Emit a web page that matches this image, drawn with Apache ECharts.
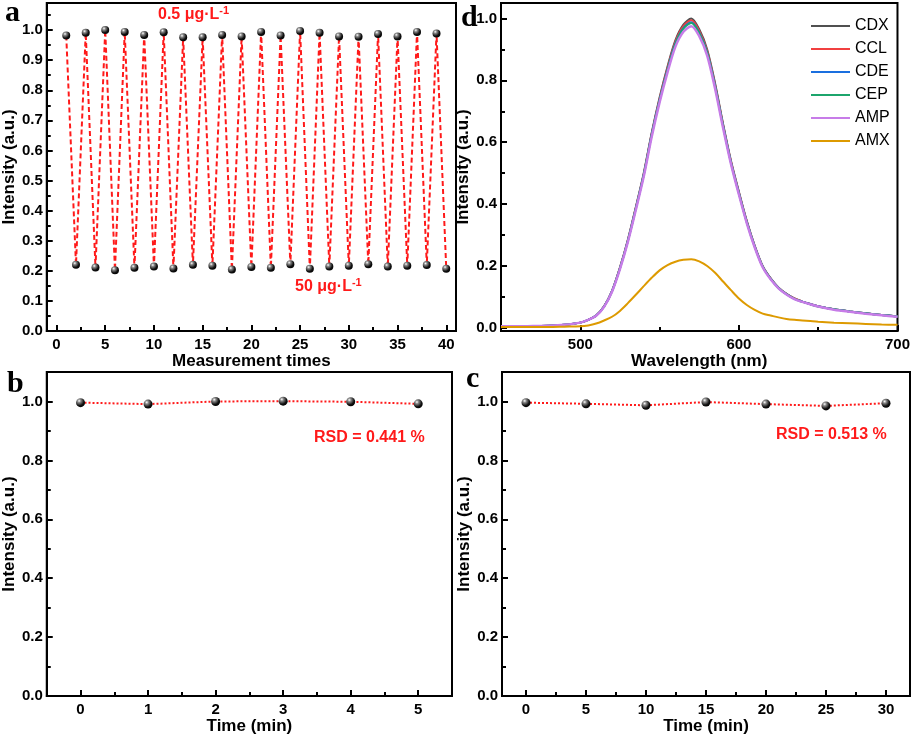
<!DOCTYPE html>
<html>
<head>
<meta charset="utf-8">
<script src="https://cdn.jsdelivr.net/npm/echarts@6/dist/echarts.min.js"></script>
<style>
html,body{margin:0;padding:0;background:#fff;}
#chart{width:913px;height:736px;}
</style>
</head>
<body>
<div id="chart"></div>
<script>
// ---------- data ----------
const aRuns = [1,2,3,4,5,6,7,8,9,10,11,12,13,14,15,16,17,18,19,20,21,22,23,24,25,26,27,28,29,30,31,32,33,34,35,36,37,38,39,40];
const aIntensity = [0.982,0.220,0.991,0.211,1.000,0.202,0.994,0.210,0.984,0.214,
                    0.993,0.208,0.976,0.220,0.976,0.217,0.984,0.204,0.979,0.213,
                    0.994,0.210,0.982,0.222,0.997,0.207,0.991,0.214,0.979,0.217,
                    0.978,0.222,0.987,0.214,0.979,0.217,0.994,0.219,0.989,0.207];

const bTime = [0,1,2,3,4,5];
const bIntensity = [0.996,0.991,1.000,1.001,0.999,0.992];

const cTime = [0,5,10,15,20,25,30];
const cIntensity = [0.996,0.992,0.987,0.998,0.991,0.985,0.994];

const dWavelength = [450,460,470,480,490,500,505,510,515,520,525,530,535,540,545,550,555,560,565,570,575,580,585,590,595,600,605,610,615,620,625,630,635,640,645,650,660,670,680,690,700];
const dCDX = [0.005,0.005,0.006,0.007,0.010,0.017,0.026,0.040,0.070,0.120,0.195,0.285,0.390,0.500,0.630,0.745,0.845,0.930,0.980,1.000,0.965,0.900,0.790,0.660,0.540,0.440,0.345,0.265,0.200,0.160,0.130,0.110,0.095,0.085,0.077,0.070,0.060,0.053,0.047,0.042,0.037];
const dCCL = [0.005,0.005,0.006,0.007,0.010,0.017,0.026,0.040,0.070,0.119,0.194,0.283,0.388,0.497,0.627,0.741,0.840,0.925,0.975,0.994,0.960,0.895,0.786,0.657,0.538,0.438,0.344,0.264,0.199,0.160,0.130,0.110,0.095,0.085,0.077,0.070,0.060,0.053,0.047,0.042,0.037];
const dCDE = [0.005,0.005,0.006,0.007,0.010,0.017,0.026,0.040,0.069,0.119,0.193,0.282,0.386,0.495,0.624,0.737,0.835,0.920,0.969,0.988,0.954,0.890,0.782,0.654,0.535,0.436,0.342,0.263,0.198,0.159,0.129,0.109,0.094,0.085,0.077,0.070,0.060,0.053,0.047,0.042,0.037];
const dCEP = [0.005,0.005,0.006,0.007,0.010,0.017,0.026,0.040,0.069,0.118,0.193,0.281,0.385,0.494,0.623,0.735,0.833,0.918,0.967,0.985,0.952,0.888,0.780,0.653,0.534,0.435,0.341,0.262,0.198,0.159,0.129,0.109,0.094,0.084,0.076,0.069,0.060,0.053,0.047,0.042,0.037];
const dAMP = [0.005,0.005,0.006,0.007,0.010,0.017,0.026,0.039,0.068,0.117,0.190,0.278,0.381,0.489,0.617,0.729,0.826,0.909,0.957,0.975,0.943,0.880,0.773,0.647,0.530,0.431,0.338,0.260,0.196,0.157,0.128,0.108,0.093,0.084,0.076,0.069,0.059,0.052,0.046,0.041,0.036];
const dAMX = [0.003,0.003,0.003,0.003,0.004,0.005,0.008,0.014,0.024,0.036,0.055,0.080,0.107,0.135,0.162,0.186,0.203,0.214,0.220,0.222,0.215,0.200,0.178,0.150,0.122,0.095,0.074,0.058,0.046,0.040,0.034,0.029,0.026,0.024,0.022,0.020,0.017,0.015,0.013,0.011,0.010];
const dNames = ['CDX','CCL','CDE','CEP','AMP','AMX'];

// tick labels
const aXTicks = [0,5,10,15,20,25,30,35,40];
const aXMinor = [2.5,7.5,12.5,17.5,22.5,27.5,32.5,37.5];
const aYTicks = [0,0.1,0.2,0.3,0.4,0.5,0.6,0.7,0.8,0.9,1.0];
const aYMinor = [0.05,0.15,0.25,0.35,0.45,0.55,0.65,0.75,0.85,0.95,1.05];
const dXTicks = [500,600,700];
const dXMinor = [550,650];
const yTicks02 = [0,0.2,0.4,0.6,0.8,1.0];
const yMinor02 = [0.1,0.3,0.5,0.7,0.9];
const bXTicks = [0,1,2,3,4,5];
const bXMinor = [0.5,1.5,2.5,3.5,4.5];
const cXTicks = [0,5,10,15,20,25,30];
const cXMinor = [2.5,7.5,12.5,17.5,22.5,27.5];

// ---------- chart ----------
const FONT = '"Liberation Sans", Arial, sans-serif';
const SERIF = '"Liberation Serif", "Times New Roman", serif';
const RED = '#ff1a1a';
const fmt1 = v => v.toFixed(1);
const fmt0 = v => String(Math.round(v));

function axes(dim, grid, min, max, majors, minors, fmt, name, nameGap) {
  const base = {type:'value', gridIndex:grid, min:min, max:max,
    position: dim === 'x' ? 'bottom' : 'left', splitLine:{show:false}};
  const main = Object.assign({}, base, {
    name:name, nameLocation:'middle', nameGap:nameGap,
    nameTextStyle:{color:'#000', fontWeight:'bold', fontSize:17, fontFamily:FONT},
    axisLine:{show:true, onZero:false, lineStyle:{color:'#000', width:2}},
    axisTick:{show:true, inside:true, length:6, customValues:majors, lineStyle:{color:'#000', width:2}},
    axisLabel:{show:true, customValues:majors, formatter:fmt, margin: dim === 'x' ? 6 : 4,
      color:'#000', fontSize:15, fontWeight:'bold', fontFamily:FONT}
  });
  const minor = Object.assign({}, base, {
    axisLine:{show:false, onZero:false},
    axisTick:{show:true, inside:true, length:4, customValues:minors, lineStyle:{color:'#000', width:2}},
    axisLabel:{show:false}
  });
  return [main, minor];
}

const ball = {type:'radial', x:0.35, y:0.3, r:0.75, colorStops:[
  {offset:0, color:'#ffffff'}, {offset:0.25, color:'#8a8a8a'}, {offset:0.7, color:'#111111'}, {offset:1, color:'#000000'}]};

const gridStyle = {show:true, borderColor:'#000', borderWidth:2, backgroundColor:'transparent', containLabel:false};

const xAxis = [].concat(
  axes('x', 0, -1, 41, aXTicks, aXMinor, fmt0, 'Measurement times', 15),
  axes('x', 1, 450, 700, dXTicks, dXMinor, fmt0, 'Wavelength (nm)', 15),
  axes('x', 2, -0.5, 5.5, bXTicks, bXMinor, fmt0, 'Time (min)', 15),
  axes('x', 3, -2, 32, cXTicks, cXMinor, fmt0, 'Time (min)', 15)
);
const yAxis = [].concat(
  axes('y', 0, 0, 1.09, aYTicks, aYMinor, fmt1, 'Intensity (a.u.)', 28),
  axes('y', 1, -0.01, 1.05, yTicks02, yMinor02, fmt1, 'Intensity (a.u.)', 26),
  axes('y', 2, 0, 1.1, yTicks02, yMinor02, fmt1, 'Intensity (a.u.)', 28),
  axes('y', 3, 0, 1.1, yTicks02, yMinor02, fmt1, 'Intensity (a.u.)', 27)
);

const dColors = ['#505050','#f14040','#1a6fdf','#1ca56c','#c77ce8','#dd9a00'];
const dData = [dCDX, dCCL, dCDE, dCEP, dAMP, dAMX];
const dSeries = dNames.map((n, k) => ({
  name:n, type:'line', xAxisIndex:2, yAxisIndex:2, symbol:'none', smooth:0.3,
  data: dWavelength.map((w, i) => [w, dData[k][i]]),
  lineStyle:{color:dColors[k], width: n === 'AMP' ? 2.5 : 2},
  itemStyle:{color:dColors[k]}
}));

function pointSeries(xi, xs, ys, dash, size) {
  return {type:'line', xAxisIndex:xi, yAxisIndex:xi, data: xs.map((x, i) => [x, ys[i]]),
    symbol:'circle', symbolSize:size, showSymbol:true,
    lineStyle:{color:RED, width:2, type:dash},
    itemStyle:{color:ball, borderWidth:0}};
}

function redText(x, y, main, sup) {
  return {type:'text', x:x, y:y, style:{
    text: sup ? '{m|' + main + '}{s|' + sup + '}' : '{m|' + main + '}',
    verticalAlign:'middle', align:'left',
    rich:{
      m:{fontSize:16, fontWeight:'bold', fontFamily:FONT, fill:RED, lineHeight:20},
      s:{fontSize:11, fontWeight:'bold', fontFamily:FONT, fill:RED, lineHeight:11, verticalAlign:'top'}
    }}};
}
function letter(x, y, t) {
  return {type:'text', x:x, y:y, style:{text:t, fontSize:30, fontWeight:'bold', fontFamily:SERIF,
    fill:'#000', verticalAlign:'middle', align:'left'}};
}

const option = {
  animation:false,
  backgroundColor:'#fff',
  grid:[
    Object.assign({left:46, top:3, width:410, height:328}, gridStyle),
    Object.assign({left:501, top:3, width:406, height:328}, gridStyle),
    Object.assign({left:43, top:372, width:409, height:327}, gridStyle),
    Object.assign({left:502, top:372, width:408, height:327}, gridStyle)
  ],
  xAxis:xAxis,
  yAxis:yAxis,
  legend:{data:dNames, orient:'vertical', left:811, top:18, itemWidth:39, itemHeight:14, itemGap:7,
    padding:0, icon:'path://M0,6 L40,6 L40,8 L0,8 Z',
    textStyle:{fontSize:16, color:'#000', fontFamily:FONT}},
  series:[
    pointSeries(0, aRuns, aIntensity, [5,3], 8)
  ].concat(dSeries, [
    pointSeries(4, bTime, bIntensity, [2,2], 9),
    pointSeries(6, cTime, cIntensity, [2,2], 9)
  ]),
  graphic:[
    letter(5, 13, 'a'),
    letter(461, 18, 'd'),
    letter(7, 384, 'b'),
    letter(466, 379, 'c'),
    redText(158, 15, '0.5 μg·L', '-1'),
    redText(295, 287, '50 μg·L', '-1'),
    redText(314, 438, 'RSD = 0.441 %'),
    redText(776, 435, 'RSD = 0.513 %')
  ]
};

const chart = echarts.init(document.getElementById('chart'), null, {renderer:'canvas'});
chart.setOption(option);
</script>
</body>
</html>
